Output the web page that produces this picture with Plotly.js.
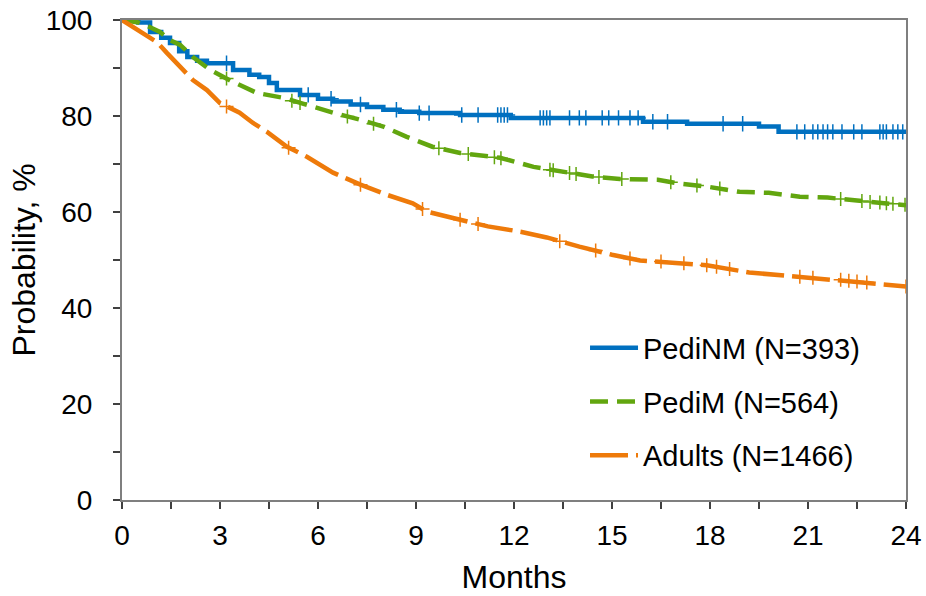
<!DOCTYPE html>
<html>
<head>
<meta charset="utf-8">
<script src="https://cdn.plot.ly/plotly-3.0.1.min.js"></script>
<style>html,body{margin:0;padding:0;background:#fff;}#chart{width:926px;height:596px;}</style>
</head>
<body>
<div id="chart"></div>
<script>
// Kaplan-Meier curves (months, probability %)
const pediNMTime = [0,0.5,0.86,1.2,1.47,1.75,2.0,2.3,2.6,3.4,3.9,4.2,4.5,4.74,5.45,6.0,6.46,7.0,7.5,8.0,8.5,9.1,10.35,11.9,15.95,17.3,19.5,20.1,24];
const pediNMProb = [100,99.5,97.5,96.3,95.2,93.5,92.3,91.5,91.0,89.6,88.6,88.1,86.9,85.4,84.4,83.6,83.0,82.4,81.9,81.3,80.9,80.6,80.2,79.6,78.8,78.4,77.8,76.7,76.7];

const pediMTime = [0,0.5,0.86,1.16,1.47,1.78,2.17,2.7,3.4,4.13,4.93,5.66,6.46,7.3,8.0,8.7,9.5,10.35,11.57,12.6,13.6,14.4,15.24,16.4,17.1,17.9,18.9,19.8,20.75,21.6,22.5,23.9,24];
const pediMProb = [100,99.5,98.5,97.5,95.8,94.8,92.3,89.6,87.1,84.8,83.8,82.3,80.7,79.2,77.8,75.7,73.6,72.3,71.3,69.4,68.2,67.4,66.9,66.7,65.9,65.3,64.2,64.0,63.2,63.0,62.4,61.5,61.4];

const adultsTime = [0,0.55,1.07,1.38,1.78,2.17,2.6,3.0,3.6,4.0,4.44,5.05,5.66,6.46,7.3,8.1,8.9,9.33,10.1,11.2,12.2,13.0,14.0,15.0,15.86,16.9,17.9,19.2,20.5,21.97,23.0,24];
const adultsProb = [100,97.5,95.4,93.1,90.2,87.5,85.4,82.7,80.7,78.6,76.7,73.6,71.5,68.2,65.7,63.6,61.8,60.1,58.8,57.0,55.9,54.7,52.8,51.1,49.9,49.5,48.9,47.4,46.6,45.9,45.1,44.5];

// Censoring marks
const pediNMCensT = [3.2,5.7,6.4,7.3,8.4,9.1,9.4,10.4,10.9,11.5,11.6,11.7,11.8,12.8,12.9,13.0,13.1,13.7,14.0,14.2,14.7,14.9,15.2,15.55,15.8,16.25,16.7,18.4,19.0,20.66,20.9,21.15,21.3,21.46,21.6,21.76,22.04,22.4,22.65,23.2,23.3,23.4,23.6,23.75,23.9];
const pediNMCensP = [91.0,84.4,83.6,82.4,81.3,80.6,80.6,80.2,80.2,80.2,80.2,80.2,80.2,79.6,79.6,79.6,79.6,79.6,79.6,79.6,79.6,79.6,79.6,79.6,79.6,78.8,78.8,78.4,78.4,76.7,76.7,76.7,76.7,76.7,76.7,76.7,76.7,76.7,76.7,76.7,76.7,76.7,76.7,76.7,76.7];

const pediMCensT = [3.2,5.2,5.45,6.9,7.7,9.7,10.6,11.4,11.6,13.1,13.2,13.7,13.9,14.6,15.3,16.8,17.6,18.3,22.0,22.65,22.9,23.2,23.4,23.6,23.97];
const pediMCensP = [87.8,83.2,82.7,79.9,78.4,73.3,72.1,71.4,71.2,68.8,68.7,68.1,67.9,67.3,66.9,66.2,65.5,64.9,62.7,62.3,62.1,62.0,61.8,61.7,61.5];

const adultsCensT = [3.2,5.1,7.3,9.2,10.35,10.9,13.4,14.5,15.55,16.5,17.2,17.9,18.2,18.6,20.75,21.15,22.0,22.25,22.5,22.8,24.0];
const adultsCensP = [82.0,73.4,65.7,60.6,58.4,57.5,53.9,52.0,50.3,49.7,49.3,48.9,48.6,48.1,46.5,46.3,45.9,45.7,45.5,45.3,44.5];

const seriesNames = ['PediNM (N=393)','PediM (N=564)','Adults (N=1466)'];
const xTicks = [0,3,6,9,12,15,18,21,24];
const yTicks = [0,20,40,60,80,100];

const cBlue = '#0070C0', cGreen = '#62A60F', cOrange = '#EE7A0A';
const font = 'Arial, "Liberation Sans", sans-serif';

const traces = [
  {x: pediNMTime, y: pediNMProb, name: seriesNames[0], mode: 'lines', line: {color: cBlue, width: 4.5, shape: 'hv'}, legendgroup: 'a'},
  {x: pediMTime, y: pediMProb, name: seriesNames[1], mode: 'lines', line: {color: cGreen, width: 4.5, dash: '18px,9px'}, legendgroup: 'b'},
  {x: adultsTime, y: adultsProb, name: seriesNames[2], mode: 'lines', line: {color: cOrange, width: 4.5, dash: '38px,8px'}, legendgroup: 'c'},
  {x: pediNMCensT, y: pediNMCensP, mode: 'markers', showlegend: false, marker: {symbol: 'cross-thin', size: 11, line: {color: cBlue, width: 1.5}}},
  {x: pediMCensT, y: pediMCensP, mode: 'markers', showlegend: false, marker: {symbol: 'cross-thin', size: 10, line: {color: cGreen, width: 1.5}}},
  {x: adultsCensT, y: adultsCensP, mode: 'markers', showlegend: false, marker: {symbol: 'cross-thin', size: 10, line: {color: cOrange, width: 1.5}}}
];

const layout = {
  width: 926, height: 596,
  margin: {l: 122, r: 20, t: 20, b: 96},
  paper_bgcolor: '#fff', plot_bgcolor: '#fff',
  font: {family: font, size: 28, color: '#000'},
  xaxis: {
    range: [0, 24], tickvals: xTicks, ticktext: xTicks.map(String),
    ticks: 'outside', ticklen: 7, tickwidth: 1.5, tickcolor: '#404040',
    minor: {dtick: 1.5, ticks: 'outside', ticklen: 7, tickwidth: 1.5, tickcolor: '#404040', showgrid: false},
    showline: true, linecolor: '#7f7f7f', linewidth: 2, mirror: true,
    showgrid: false, zeroline: false,
    tickfont: {size: 28, family: font, color: '#000'},
    ticklabelstandoff: 2,
    title: {text: 'Months', font: {size: 32, family: font, color: '#000'}, standoff: 16}
  },
  yaxis: {
    range: [0, 100], tickvals: yTicks, ticktext: yTicks.map(String),
    ticks: 'outside', ticklen: 7, tickwidth: 1.5, tickcolor: '#404040',
    minor: {dtick: 10, ticks: 'outside', ticklen: 7, tickwidth: 1.5, tickcolor: '#404040', showgrid: false},
    showline: true, linecolor: '#7f7f7f', linewidth: 2, mirror: true,
    showgrid: false, zeroline: false,
    tickfont: {size: 28, family: font, color: '#000'},
    ticklabelstandoff: 15,
    title: {text: 'Probability, %', font: {size: 32, family: font, color: '#000'}, standoff: 0}
  },
  legend: {
    x: 0.5906, y: 0.37, xanchor: 'left', yanchor: 'top',
    bgcolor: 'rgba(0,0,0,0)', font: {size: 29, family: font, color: '#000'},
    tracegroupgap: 13, itemwidth: 48
  },
  showlegend: true
};

Plotly.newPlot('chart', traces, layout, {displayModeBar: false, staticPlot: true});
</script>
</body>
</html>
